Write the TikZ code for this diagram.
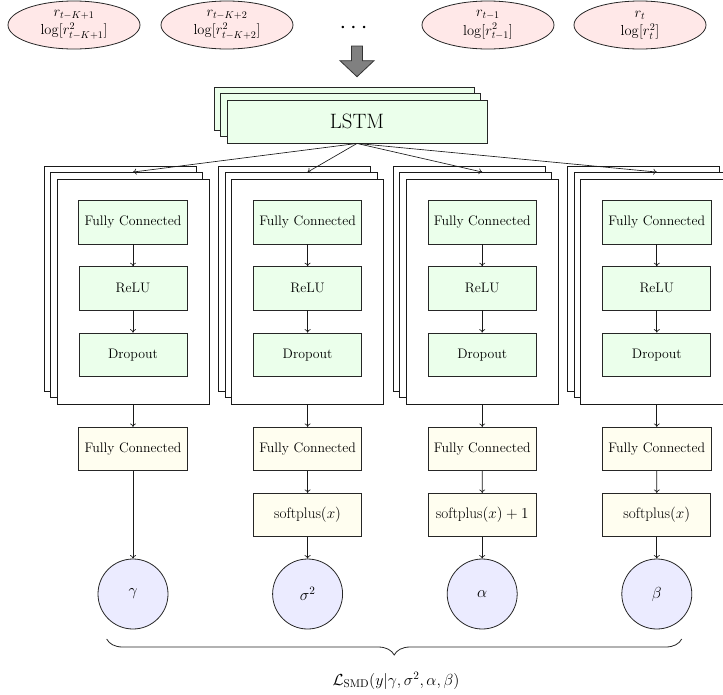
\RequirePackage{fix-cm}
\documentclass[tikz,border=0pt]{standalone}
\usepackage{amsmath}
\usetikzlibrary{shapes.geometric,arrows.meta,decorations.pathreplacing}
\newcommand\fsA{\fontsize{13.8}{16}\selectfont}
\newcommand\fsE{\fontsize{14.5}{17}\selectfont}
\newcommand\fsL{\fontsize{20.8}{24}\selectfont}
\newcommand\fsS{\fontsize{15.2}{18}\selectfont}
\newcommand\fsC{\fontsize{16}{19}\selectfont}
\newcommand\fsD{\fontsize{24}{28}\selectfont}
\colorlet{pinkfill}{red!9}
\colorlet{greenfill}{green!8}
\colorlet{yellowfill}{yellow!6}
\colorlet{lavfill}{blue!8}
\tikzset{
  ell/.style={ellipse, draw=black!85, line width=0.8pt, fill=pinkfill, minimum width=132, minimum height=48, inner sep=0pt, align=center, font=\fsE},
  stackrect/.style={draw=black!90, line width=0.9pt, fill=white, minimum width=152, minimum height=225, inner sep=0pt},
  lstmrect/.style={draw=black!85, line width=0.9pt, fill=greenfill, minimum width=260, minimum height=43, inner sep=0pt, font=\fsL},
  greenbox/.style={draw=black!85, line width=0.8pt, fill=greenfill, minimum width=108, minimum height=43.3, inner sep=5.8pt, font=\fsA},
  yellowbox/.style={draw=black!85, line width=0.8pt, fill=yellowfill, minimum width=108, minimum height=43.3, inner sep=5.8pt, font=\fsA},
  spbox/.style={yellowbox, font=\fsS},
  circ/.style={circle, draw=black!85, line width=0.8pt, fill=lavfill, minimum size=70, inner sep=0pt, font=\fsC},
  arr/.style={draw=black!90, line width=0.65pt, -{To[length=3.5pt,width=6pt]}},
  bigarrow/.style={draw=black!80, line width=0.8pt, fill=black!50},
}
\begin{document}
\begin{tikzpicture}[x=1pt,y=-1pt]
\useasboundingbox (0,0) rectangle (723,694);
% inputs
\node[ell] (e1) at (74,25) {$r_{t-K+1}$\\[1.5pt]$\log[r^2_{t-K+1}]$};
\node[ell] (e2) at (227,25) {$r_{t-K+2}$\\[1.5pt]$\log[r^2_{t-K+2}]$};
\node[font=\fsD] (dots) at (355.5,28) {$\cdots$};
\node[ell] (e3) at (488,25) {$r_{t-1}$\\[1.5pt]$\log[r^2_{t-1}]$};
\node[ell] (e4) at (640,25) {$r_{t}$\\[1.5pt]$\log[r^2_{t}]$};
% big arrow
\draw[bigarrow] (351.5,46) -- (362.5,46) -- (362.5,60.7) -- (374,60.7) -- (357,76.7) -- (340,60.7) -- (351.5,60.7) -- cycle;
% LSTM
\node[lstmrect] (lstmback) at (344,108.5) {};
\node[lstmrect] (lstmmid) at (350.5,115) {};
\node[lstmrect] (lstm) at (357,121.5) {LSTM};
% columns
\foreach \i in {0,1,2,3}{
  \pgfmathsetmacro\cx{133+174.6*\i}
  \node[stackrect] (back\i) at (\cx-13,278.5) {};
  \node[stackrect] (mid\i) at (\cx-6.5,285) {};
  \node[stackrect] (front\i) at (\cx,291.5) {};
  \node[greenbox] (fc\i) at (\cx,222.3) {Fully Connected};
  \node[greenbox] (relu\i) at (\cx,288.3) {ReLU};
  \node[greenbox] (drop\i) at (\cx,354.7) {Dropout};
  \draw[arr] (fc\i) -- (relu\i);
  \draw[arr] (relu\i) -- (drop\i);
  \draw[arr] (lstm.south) -- (mid\i.north -| front\i.north);
  \node[yellowbox] (ofc\i) at (\cx,449) {Fully Connected};
  \draw[arr] (front\i) -- (ofc\i);
}
\node[spbox] (sp1) at (307.6,515) {softplus$(x)$};
\node[spbox] (sp2) at (482.2,515) {softplus$(x)+1$};
\node[spbox] (sp3) at (656.8,515) {softplus$(x)$};
\node[circ] (p0) at (133,594) {$\gamma$};
\node[circ] (p1) at (307.6,594) {$\sigma^2$};
\node[circ] (p2) at (482.2,594) {$\alpha$};
\node[circ] (p3) at (656.8,594) {$\beta$};
\draw[arr] (ofc0) -- (p0);
\foreach \i in {1,2,3}{
  \draw[arr] (ofc\i) -- (sp\i);
  \draw[arr] (sp\i) -- (p\i);
}
% brace
\coordinate (braceL) at (106.7,639);
\coordinate (braceR) at (681.7,639);
\draw[draw=black!85, line width=0.8pt, decorate, decoration={brace, amplitude=16pt}] (braceR) -- (braceL);
\node[font=\fsC] (loss) at (396,681) {$\mathcal{L}_{\mathrm{SMD}}(y|\gamma,\sigma^2,\alpha,\beta)$};
\end{tikzpicture}
\end{document}
